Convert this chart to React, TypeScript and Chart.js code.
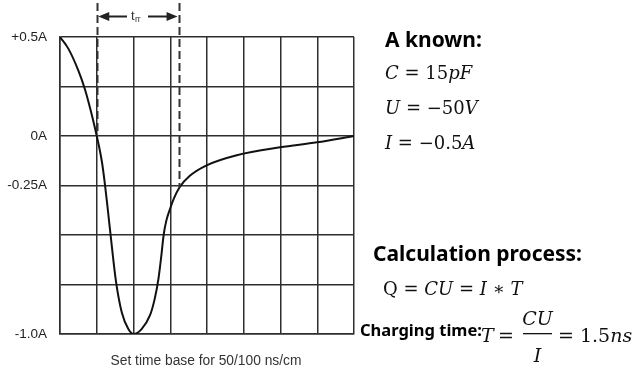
import React, { useEffect, useRef } from 'react';
import { Chart, registerables } from 'chart.js';

Chart.register(...registerables);

// Time axis in grid divisions (8 divisions), current in amperes
const timeDivs = [0, 0.23, 0.5, 0.68, 0.82, 1.0, 1.14, 1.22, 1.3, 1.4, 1.52, 1.68, 1.86, 2.0, 2.22, 2.45, 2.58, 2.68, 2.76, 2.82, 2.89, 2.99, 3.1, 3.25, 3.54, 3.99, 4.81, 5.99, 6.99, 8];
const currentA = [0.5, 0.44, 0.33, 0.235, 0.14, 0, -0.13, -0.24, -0.37, -0.54, -0.73, -0.89, -0.975, -1.0, -0.975, -0.905, -0.82, -0.72, -0.6, -0.5, -0.43, -0.37, -0.315, -0.26, -0.2, -0.148, -0.097, -0.057, -0.032, 0];

const yTickValues = [0.5, 0, -0.25, -1.0];
const yTickLabels = ['+0.5A', '0A', '-0.25A', '-1.0A'];

// t_rr markers (start / end division and the current where the dashed line stops)
const trrDivs = [1.0, 3.24];
const trrCurrents = [0, -0.26];

const xCaption = 'Set time base for 50/100 ns/cm';

type Run = [string, string];

const SERIF = '"DejaVu Serif", "Liberation Serif", serif';
const SANS = '"Noto Sans", "Open Sans", sans-serif';
const ARIAL = '"Liberation Sans", Arial, sans-serif';

function drawRuns(ctx: CanvasRenderingContext2D, x: number, y: number, runs: Run[]) {
  let cx = x;
  for (const [text, font] of runs) {
    ctx.font = font;
    ctx.fillText(text, cx, y);
    cx += ctx.measureText(text).width;
  }
  return cx;
}

const annotationPlugin = {
  id: 'annotations',
  afterDraw(chart: any) {
    const { ctx, scales } = chart;
    const xs = scales.x;
    const ys = scales.y;
    ctx.save();

    // dashed t_rr lines
    ctx.strokeStyle = '#333';
    ctx.lineWidth = 2;
    ctx.setLineDash([8, 4]);
    trrDivs.forEach((d, i) => {
      const px = Math.round(xs.getPixelForValue(d)) + 0.5;
      ctx.beginPath();
      ctx.moveTo(px, 3);
      ctx.lineTo(px, ys.getPixelForValue(trrCurrents[i]));
      ctx.stroke();
    });
    ctx.setLineDash([]);

    // arrows
    const x1 = xs.getPixelForValue(trrDivs[0]) + 1.5;
    const x2 = xs.getPixelForValue(trrDivs[1]) - 1.5;
    const ay = 16.5;
    ctx.fillStyle = '#222';
    ctx.strokeStyle = '#222';
    ctx.lineWidth = 2;
    ctx.beginPath();
    ctx.moveTo(x1 + 8, ay);
    ctx.lineTo(127, ay);
    ctx.moveTo(148, ay);
    ctx.lineTo(x2 - 8, ay);
    ctx.stroke();
    ctx.beginPath();
    ctx.moveTo(x1, ay);
    ctx.lineTo(x1 + 11, ay - 4.5);
    ctx.lineTo(x1 + 11, ay + 4.5);
    ctx.closePath();
    ctx.fill();
    ctx.beginPath();
    ctx.moveTo(x2, ay);
    ctx.lineTo(x2 - 11, ay - 4.5);
    ctx.lineTo(x2 - 11, ay + 4.5);
    ctx.closePath();
    ctx.fill();

    ctx.textAlign = 'left';
    ctx.textBaseline = 'alphabetic';
    ctx.fillStyle = '#333';
    ctx.font = `13px ${ARIAL}`;
    ctx.fillText('t', 131, 19.5);
    ctx.font = `8.5px ${ARIAL}`;
    ctx.fillText('rr', 135, 22);

    // x caption
    ctx.fillStyle = '#333';
    ctx.font = `13.8px ${ARIAL}`;
    ctx.textAlign = 'center';
    ctx.fillText(xCaption, 206, 365);

    // right-hand text
    ctx.textAlign = 'left';
    ctx.fillStyle = '#000';
    const bold21 = `bold 21px ${SANS}`;
    const it = `italic 18px ${SERIF}`;
    const up = `18px ${SERIF}`;
    ctx.font = bold21;
    ctx.fillText('A known:', 385, 46.5);
    ctx.fillStyle = '#111';
    drawRuns(ctx, 385, 79, [['C', it], [' = ', up], ['15', up], ['pF', it]]);
    drawRuns(ctx, 385, 113.5, [['U', it], [' = −50', up], ['V', it]]);
    drawRuns(ctx, 385, 148.5, [['I', it], [' = −0.5', up], ['A', it]]);

    ctx.fillStyle = '#000';
    ctx.font = bold21;
    ctx.fillText('Calculation process:', 373, 261);
    ctx.fillStyle = '#111';
    drawRuns(ctx, 383, 295, [['Q', up], [' = ', up], ['CU', it], [' = ', up], ['I', it], [' ∗ ', up], ['T', it]]);

    ctx.fillStyle = '#000';
    ctx.font = `bold 16.5px ${SANS}`;
    ctx.fillText('Charging time:', 360, 336);
    ctx.fillStyle = '#111';
    const it19 = `italic 19px ${SERIF}`;
    const up19 = `19px ${SERIF}`;
    drawRuns(ctx, 481, 341.5, [['T', it19]]);
    drawRuns(ctx, 498, 341.5, [['=', up19]]);
    ctx.textAlign = 'center';
    ctx.font = it19;
    ctx.fillText('CU', 537.5, 325);
    ctx.fillText('I', 537.5, 361.5);
    ctx.fillRect(523, 333, 29, 1.3);
    ctx.textAlign = 'left';
    drawRuns(ctx, 558, 341.5, [['= 1.5', up19], ['ns', it19]]);

    ctx.restore();
  },
};

export default function App() {
  const canvasRef = useRef<HTMLCanvasElement | null>(null);

  useEffect(() => {
    document.body.style.margin = '0';
    const canvas = canvasRef.current;
    if (!canvas) return;
    const chart = new Chart(canvas, {
      type: 'line',
      data: {
        datasets: [
          {
            data: timeDivs.map((t, i) => ({ x: t, y: currentA[i] })),
            borderColor: '#111',
            borderWidth: 2,
            pointRadius: 0,
            cubicInterpolationMode: 'monotone',
            fill: false,
          },
        ],
      },
      options: {
        responsive: false,
        animation: false,
        events: [],
        layout: { padding: { left: 0, top: 37, right: 283, bottom: 37 } },
        plugins: { legend: { display: false }, tooltip: { enabled: false }, title: { display: false } },
        scales: {
          x: {
            type: 'linear',
            min: 0,
            max: 8,
            ticks: { display: false, stepSize: 1 },
            grid: { color: '#2e2e2e', lineWidth: 1.5, drawTicks: false },
            border: { color: '#2e2e2e', width: 1.5 },
          },
          y: {
            type: 'linear',
            min: -1,
            max: 0.5,
            afterFit: (axis: any) => {
              axis.width = 60;
            },
            ticks: {
              stepSize: 0.25,
              padding: 13,
              color: '#222',
              font: { family: ARIAL, size: 13.5 },
              callback: (v: any) => {
                const idx = yTickValues.findIndex((t) => Math.abs(t - Number(v)) < 1e-6);
                return idx >= 0 ? yTickLabels[idx] : '';
              },
            },
            grid: { color: '#2e2e2e', lineWidth: 1.5, drawTicks: false },
            border: { color: '#2e2e2e', width: 1.5 },
          },
        },
      },
      plugins: [annotationPlugin],
    } as any);
    return () => chart.destroy();
  }, []);

  return (
    <div style={{ width: 637, height: 371, background: '#fff' }}>
      <canvas ref={canvasRef} width={637} height={371} style={{ display: 'block' }} />
    </div>
  );
}
